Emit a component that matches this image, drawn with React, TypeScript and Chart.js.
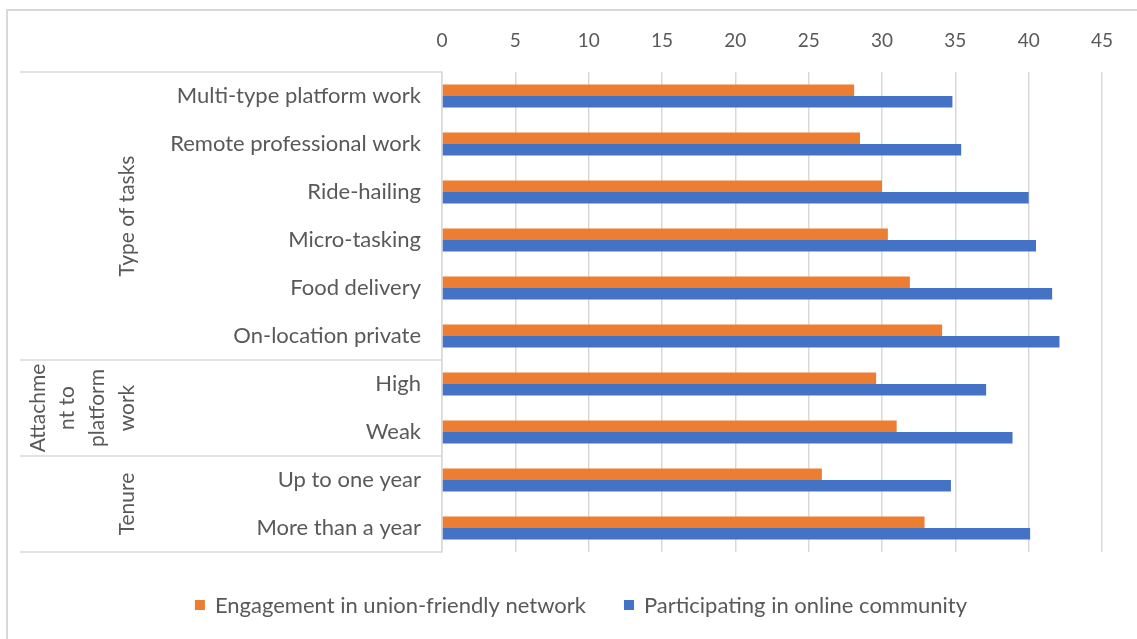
import React, { useEffect, useRef } from "react";
import { Chart, registerables } from "chart.js";

Chart.register(...registerables);

const categories = [
  "Multi-type platform work",
  "Remote professional work",
  "Ride-hailing",
  "Micro-tasking",
  "Food delivery",
  "On-location private",
  "High",
  "Weak",
  "Up to one year",
  "More than a year",
];
const groupLabels: string[][] = [["Type of tasks"], ["Attachme", "nt to", "platform", "work"], ["Tenure"]];
const groupSizes = [6, 2, 2];
const unionNetwork = [28.1, 28.5, 30.0, 30.4, 31.9, 34.1, 29.6, 31.0, 25.9, 32.9];
const onlineCommunity = [34.8, 35.4, 40.0, 40.5, 41.6, 42.1, 37.1, 38.9, 34.7, 40.1];
const seriesNames = ["Engagement in union-friendly network", "Participating in online community"];
const seriesColors = ["#ED7D31", "#4472C4"];
const xMin = 0;
const xMax = 45;
const xStep = 5;

const FONT = "Lato, 'Noto Sans', sans-serif";
const TEXT = "#595959";
const LINE = "#d9d9d9";

const decorPlugin = {
  id: "decor",
  afterDraw(chart: any) {
    const ctx = chart.ctx;
    const area = chart.chartArea;
    const y = chart.scales.y;
    const step = y.getPixelForValue(1) - y.getPixelForValue(0);
    ctx.save();
    // outer border
    ctx.strokeStyle = LINE;
    ctx.lineWidth = 2;
    ctx.beginPath();
    ctx.moveTo(7, 639);
    ctx.lineTo(7, 10);
    ctx.lineTo(1137, 10);
    ctx.stroke();
    // group separators
    ctx.lineWidth = 1.5;
    let idx = 0;
    const bounds: number[] = [y.getPixelForValue(0) - step / 2];
    groupSizes.forEach((n) => {
      idx += n;
      bounds.push(y.getPixelForValue(idx - 1) + step / 2);
    });
    bounds.forEach((b) => {
      ctx.beginPath();
      ctx.moveTo(20, b);
      ctx.lineTo(area.left, b);
      ctx.stroke();
    });
    // group labels (rotated)
    ctx.fillStyle = TEXT;
    ctx.font = `21px ${FONT}`;
    ctx.textAlign = "center";
    ctx.textBaseline = "middle";
    groupLabels.forEach((lines, g) => {
      const cy = (bounds[g] + bounds[g + 1]) / 2;
      lines.forEach((ln, i) => {
        const cx = 127 - (lines.length - 1 - i) * 29.7;
        ctx.save();
        ctx.translate(cx, cy);
        ctx.rotate(-Math.PI / 2);
        ctx.fillText(ln, 0, 0);
        ctx.restore();
      });
    });
    // legend
    ctx.font = `22px ${FONT}`;
    ctx.textAlign = "left";
    const box = 10;
    const gapBT = 10;
    const gapItems = 38;
    const widths = chart.data.datasets.map((d: any) => ctx.measureText(d.label).width);
    const total = widths.reduce((a: number, w: number) => a + box + gapBT + w, 0) + gapItems * (widths.length - 1);
    let x = 581 - total / 2;
    const ly = 605;
    chart.data.datasets.forEach((d: any, i: number) => {
      ctx.fillStyle = d.backgroundColor;
      ctx.fillRect(x, ly - box / 2, box, box);
      x += box + gapBT;
      ctx.fillStyle = TEXT;
      ctx.fillText(d.label, x, ly + 1);
      x += widths[i] + gapItems;
    });
    ctx.restore();
  },
};

export default function App() {
  const ref = useRef<HTMLCanvasElement>(null);
  useEffect(() => {
    if (!ref.current) return;
    const chart = new Chart(ref.current, {
      type: "bar",
      data: {
        labels: categories,
        datasets: [
          { label: seriesNames[0], data: unionNetwork, backgroundColor: seriesColors[0], borderWidth: 0 },
          { label: seriesNames[1], data: onlineCommunity, backgroundColor: seriesColors[1], borderWidth: 0 },
        ],
      },
      options: {
        indexAxis: "y",
        animation: false,
        responsive: false,
        datasets: { bar: { categoryPercentage: 0.475, barPercentage: 1 } },
        layout: { padding: { left: 0, right: 35, top: 0, bottom: 87 } },
        plugins: { legend: { display: false }, tooltip: { enabled: false } },
        scales: {
          x: {
            position: "top",
            min: xMin,
            max: xMax,
            ticks: { stepSize: xStep, color: TEXT, font: { family: FONT, size: 19 }, padding: 20 },
            grid: { color: LINE, lineWidth: 1.5, drawTicks: false },
            border: { display: false },
            afterFit: (s: any) => {
              s.height = 72;
            },
          },
          y: {
            position: "left",
            ticks: { color: TEXT, font: { family: FONT, size: 22 }, padding: 21 },
            grid: { display: false, drawTicks: false },
            border: { display: true, color: LINE, width: 1.5 },
            afterFit: (s: any) => {
              s.width = 442;
            },
          },
        },
      },
      plugins: [decorPlugin],
    } as any);
    return () => chart.destroy();
  }, []);
  return (
    <div style={{ position: "absolute", left: 0, top: 0, width: 1137, height: 639, background: "#fff" }}>
      <canvas ref={ref} width={1137} height={639} />
    </div>
  );
}
